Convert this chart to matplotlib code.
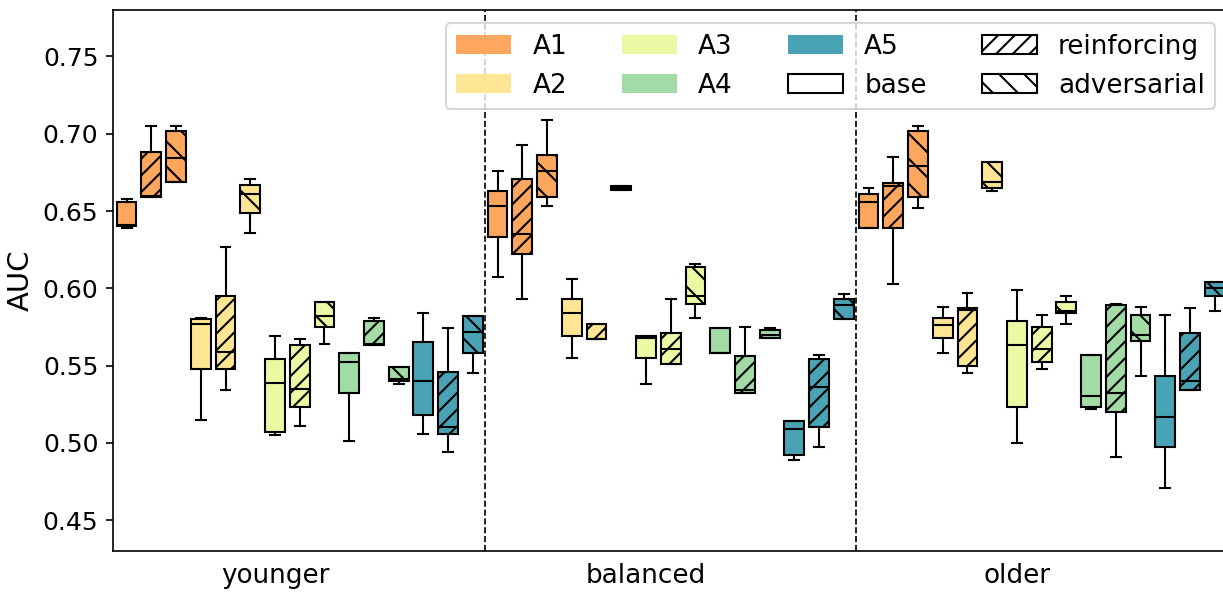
import matplotlib
matplotlib.use('Agg')
import matplotlib.pyplot as plt
from matplotlib.patches import Patch

groups = ['younger', 'balanced', 'older']
models = ['A1', 'A2', 'A3', 'A4', 'A5']
variants = ['base', 'reinforcing', 'adversarial']
colors = ['#fda65e', '#fee593', '#ecf8a3', '#a3dba6', '#4aa2b5']
hatches = {'base': '', 'reinforcing': '///', 'adversarial': '\\\\'}

# (whislo, q1, med, q3, whishi) per box, order: A1 base/reinf/adv, A2 ..., A5
younger = [
    (0.639, 0.640, 0.641, 0.656, 0.658),
    (0.659, 0.659, 0.660, 0.688, 0.705),
    (0.669, 0.669, 0.684, 0.702, 0.705),
    (0.515, 0.548, 0.577, 0.580, 0.581),
    (0.534, 0.548, 0.559, 0.595, 0.627),
    (0.636, 0.649, 0.661, 0.667, 0.671),
    (0.505, 0.507, 0.539, 0.554, 0.569),
    (0.511, 0.523, 0.535, 0.563, 0.567),
    (0.564, 0.575, 0.582, 0.591, 0.591),
    (0.501, 0.532, 0.552, 0.558, 0.558),
    (0.563, 0.563, 0.564, 0.579, 0.581),
    (0.538, 0.540, 0.541, 0.549, 0.549),
    (0.506, 0.518, 0.540, 0.565, 0.584),
    (0.494, 0.506, 0.510, 0.546, 0.574),
    (0.545, 0.558, 0.572, 0.582, 0.582),
]
balanced = [
    (0.607, 0.633, 0.653, 0.663, 0.676),
    (0.593, 0.622, 0.635, 0.671, 0.693),
    (0.653, 0.659, 0.676, 0.686, 0.709),
    (0.555, 0.569, 0.584, 0.593, 0.606),
    (0.567, 0.567, 0.567, 0.577, 0.577),
    (0.6636, 0.6637, 0.6648, 0.6662, 0.6663),
    (0.538, 0.555, 0.568, 0.569, 0.569),
    (0.551, 0.551, 0.561, 0.571, 0.593),
    (0.581, 0.590, 0.595, 0.614, 0.616),
    (0.558, 0.558, 0.558, 0.574, 0.574),
    (0.532, 0.532, 0.534, 0.556, 0.575),
    (0.568, 0.568, 0.570, 0.573, 0.574),
    (0.489, 0.492, 0.509, 0.514, 0.514),
    (0.497, 0.510, 0.536, 0.554, 0.557),
    (0.580, 0.580, 0.589, 0.593, 0.596),
]
older = [
    (0.639, 0.639, 0.656, 0.661, 0.665),
    (0.603, 0.639, 0.666, 0.668, 0.685),
    (0.652, 0.659, 0.679, 0.702, 0.705),
    (0.558, 0.568, 0.576, 0.581, 0.588),
    (0.545, 0.550, 0.586, 0.587, 0.597),
    (0.663, 0.665, 0.669, 0.682, 0.682),
    (0.500, 0.523, 0.563, 0.579, 0.599),
    (0.548, 0.552, 0.561, 0.575, 0.583),
    (0.577, 0.584, 0.585, 0.591, 0.595),
    (0.522, 0.523, 0.530, 0.557, 0.557),
    (0.491, 0.520, 0.532, 0.589, 0.590),
    (0.543, 0.566, 0.570, 0.583, 0.588),
    (0.471, 0.497, 0.517, 0.543, 0.583),
    (0.534, 0.534, 0.540, 0.571, 0.587),
    (0.585, 0.595, 0.600, 0.604, 0.604),
]


def main():
    plt.rcParams['font.size'] = 12
    fig = plt.figure(figsize=(1223 / 150, 595 / 150), dpi=150)
    ax = fig.add_axes([0.0924, 0.074, 0.912, 0.909])

    for g, data in enumerate([younger, balanced, older]):
        stats, pos, box_colors, box_hatches = [], [], [], []
        for i, (lo, q1, med, q3, hi) in enumerate(data):
            stats.append(dict(whislo=lo, q1=q1, med=med, q3=q3, whishi=hi, fliers=[]))
            pos.append(g * 15 + i)
            box_colors.append(colors[i // 3])
            box_hatches.append(hatches[variants[i % 3]])
        bp = ax.bxp(stats, positions=pos, widths=0.8, patch_artist=True,
                    showfliers=False, medianprops=dict(color='black'))
        for box, c, h in zip(bp['boxes'], box_colors, box_hatches):
            box.set_facecolor(c)
            box.set_hatch(h)

    ax.axvline(14.5, color='black', linestyle='--', linewidth=0.8)
    ax.axvline(29.5, color='black', linestyle='--', linewidth=0.8)

    ax.set_xticks([6, 21, 36])
    ax.set_xticklabels(groups, fontsize=12.6)
    ax.tick_params(axis='x', length=0, pad=6)
    ax.set_xlim(-0.55, 44.55)
    ax.set_ylim(0.43, 0.78)
    ax.set_yticks([0.45, 0.50, 0.55, 0.60, 0.65, 0.70, 0.75])
    ax.set_ylabel('AUC', fontsize=14)

    handles = [Patch(facecolor=c, label=m) for m, c in zip(models, colors)]
    handles.append(Patch(facecolor='white', edgecolor='black', label='base'))
    handles.append(Patch(facecolor='white', edgecolor='black', hatch=hatches['reinforcing'], label='reinforcing'))
    handles.append(Patch(facecolor='white', edgecolor='black', hatch=hatches['adversarial'], label='adversarial'))
    ax.legend(handles=handles, ncol=4, loc='upper right', fontsize=12.6,
              handlelength=2.1, columnspacing=2.1)

    plt.savefig('out.png', dpi=150)


if __name__ == '__main__':
    main()
